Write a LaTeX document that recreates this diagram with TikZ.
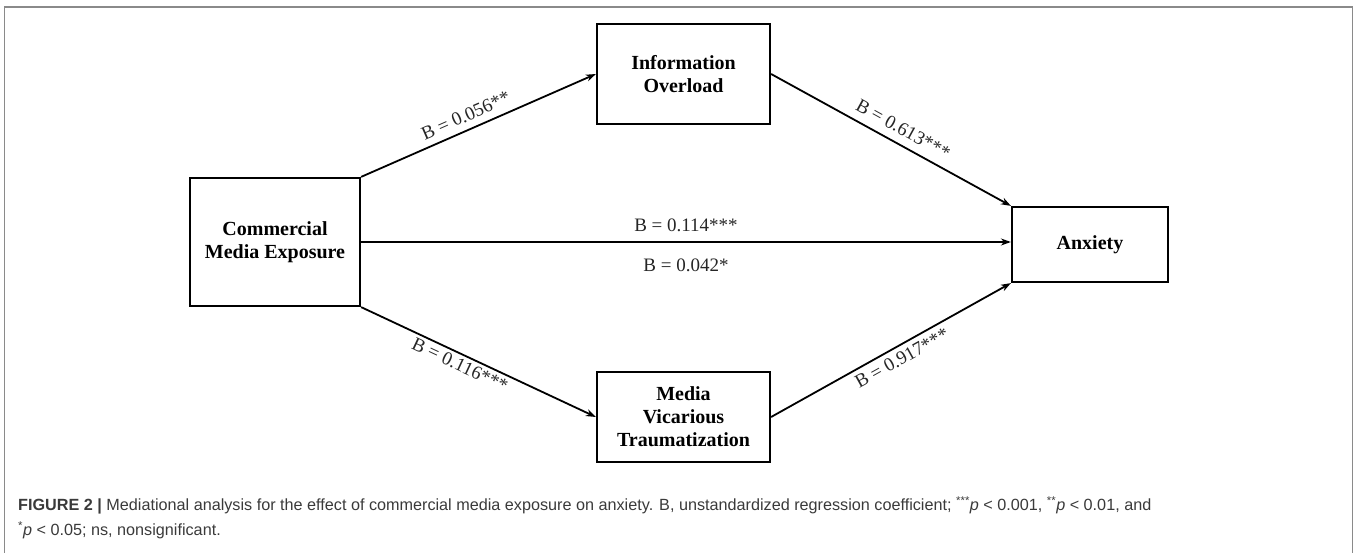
\documentclass[tikz,border=0pt]{standalone}
\usepackage{fontspec}
\setmainfont{Liberation Serif}
\newfontfamily\capfont{Liberation Sans}
\usetikzlibrary{arrows.meta}
\definecolor{capgray}{HTML}{3A3A3A}
\definecolor{framegray}{HTML}{8A8A8A}
\begin{document}
\begin{tikzpicture}[x=1pt,y=-1pt,
  box/.style={draw,line width=2.2pt,font=\bfseries\fontsize{20}{23}\selectfont,align=center,inner sep=0pt},
  conn/.style={line width=1.8pt,-{Stealth[length=10pt,width=7pt]}},
  lab/.style={font=\fontsize{19}{21}\selectfont,text=black!85,inner sep=2pt},
  captxt/.style={anchor=base west,font=\capfont\fontsize{16.2}{18}\selectfont,text=capgray,inner sep=0pt}]
\useasboundingbox (0,0) rectangle (1355,553);
\draw[framegray,line width=1.2pt] (4.5,553) -- (4.5,7) -- (1352.5,7) -- (1352.5,553);

\node[box,minimum width=170pt,minimum height=128pt] (cme) at (275,242) {Commercial\\Media Exposure};
\node[box,minimum width=173pt,minimum height=100pt] (info) at (683.5,74) {Information\\Overload};
\node[box,minimum width=173pt,minimum height=90pt] (med) at (683.5,417) {Media\\Vicarious\\Traumatization};
\node[box,minimum width=156pt,minimum height=75pt] (anx) at (1090,244.5) {Anxiety};

\draw[conn] (cme.north east) -- node[lab,sloped,above=5pt,pos=0.47] {B = 0.056**} (info.west);
\draw[conn] (info.east) -- node[lab,sloped,above=6pt,pos=0.52] {B = 0.613***} (anx.north west);
\draw[conn] (cme.east) -- node[lab,above=7pt] {B = 0.114***} node[lab,below=14pt] {B = 0.042*} (cme.east -| anx.west);
\draw[conn] (cme.south east) -- node[lab,sloped,below=1pt,pos=0.44] {B = 0.116***} (med.west);
\draw[conn] (med.east) -- node[lab,sloped,below=3pt,pos=0.52] {B = 0.917***} (anx.south west);

\node[captxt] (cap1) at (18,510.5) {\textbf{FIGURE 2 |} Mediational analysis for the effect of commercial media exposure on anxiety. B, unstandardized regression coefficient; \textsuperscript{***}\textit{p} < 0.001, \textsuperscript{**}\textit{p} < 0.01, and};
\node[captxt] (cap2) at (18,535.5) {\textsuperscript{*}\textit{p} < 0.05; ns, nonsignificant.};
\end{tikzpicture}
\end{document}
